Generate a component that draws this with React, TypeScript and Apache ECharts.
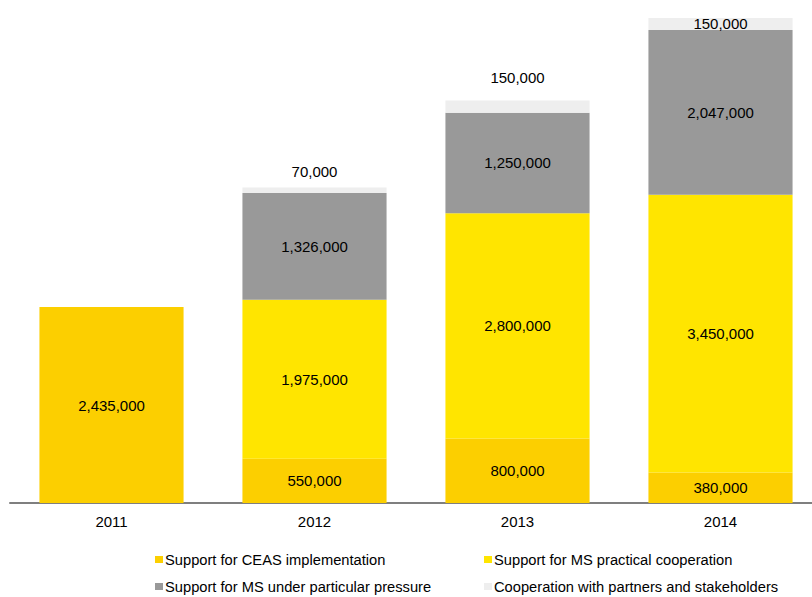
import React, { useEffect, useRef } from "react";
import * as echarts from "echarts";

const years = ["2011", "2012", "2013", "2014"];
const ceas = [2435000, 550000, 800000, 380000];
const practical = [0, 1975000, 2800000, 3450000];
const pressure = [0, 1326000, 1250000, 2047000];
const partners = [0, 70000, 150000, 150000];

const names = [
  "Support for CEAS implementation",
  "Support for MS practical cooperation",
  "Support for MS under particular pressure",
  "Cooperation with partners and stakeholders",
];
const colors = ["#FCCF00", "#FFE500", "#999999", "#EEEEEE"];

const fmt = (v: number) => v.toLocaleString("en-US");

export default function App() {
  const ref = useRef<HTMLDivElement>(null);
  useEffect(() => {
    document.body.style.margin = "0";
    const chart = echarts.init(ref.current!, null, { renderer: "svg" });
    const font = "Liberation Sans, Arial, sans-serif";
    const mk = (i: number, data: number[], labelFn?: (idx: number) => any) => ({
      name: names[i],
      type: "bar",
      stack: "t",
      barCategoryGap: "29%",
      itemStyle: { color: colors[i] },
      data: data.map((v, idx) => {
        if (v === 0) return { value: v, label: { show: false } };
        const item: any = { value: v };
        if (labelFn) item.label = labelFn(idx);
        return item;
      }),
      label: {
        show: true,
        position: "inside",
        color: "#000",
        fontSize: 15,
        fontFamily: font,
        formatter: (p: any) => fmt(p.value),
      },
    });
    const legendPos = [
      [150, 547],
      [479, 547],
      [150, 574],
      [479, 574],
    ];
    chart.setOption({
      animation: false,
      grid: { left: 10, top: 4, width: 812, height: 499, containLabel: false },
      xAxis: {
        type: "category",
        data: years,
        axisLine: { lineStyle: { color: "#7f7f7f", width: 2 } },
        axisTick: { show: false },
        axisLabel: { color: "#000", fontSize: 15, fontFamily: font, margin: 11 },
      },
      yAxis: {
        type: "value",
        min: 0,
        max: 6200000,
        show: false,
        splitLine: { show: false },
      },
      legend: names.map((n, i) => ({
        left: legendPos[i][0],
        top: legendPos[i][1],
        itemWidth: 8,
        itemHeight: 7,
        icon: "rect",
        textStyle: { color: "#000", fontSize: 14.7, fontFamily: font, padding: [0, 0, 0, -3] },
        data: [n],
      })),
      series: [
        mk(0, ceas),
        mk(1, practical),
        mk(2, pressure),
        mk(3, partners, (idx) =>
          idx === 1
            ? { position: "top", distance: 8 }
            : idx === 2
            ? { position: "top", distance: 16 }
            : { position: "inside" }
        ),
      ],
    });
    return () => chart.dispose();
  }, []);
  return (
    <div style={{ width: 812, height: 597, overflow: "hidden", position: "relative" }}>
      <div ref={ref} style={{ width: 840, height: 597 }} />
    </div>
  );
}
